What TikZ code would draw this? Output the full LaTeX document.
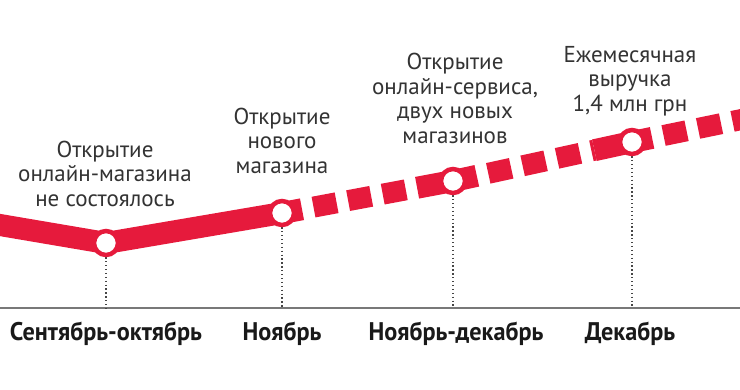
\documentclass[tikz,border=0pt]{standalone}
\usepackage{fontspec}
\setmainfont{PT Sans}
\newfontfamily\lblfont{PT Sans}
\newfontfamily\monthfont[FakeStretch=0.95]{PT Sans}
\usetikzlibrary{calc,backgrounds}
\definecolor{mred}{RGB}{230,26,60}
\definecolor{txtgray}{RGB}{51,51,51}
\definecolor{axgray}{RGB}{120,120,120}
\definecolor{dotgray}{RGB}{70,70,70}
\begin{document}
\begin{tikzpicture}[x=1pt,y=-1pt,
  redline/.style={line width=22pt, draw=mred, line cap=butt, line join=miter},
  dashline/.style={line width=21pt, draw=mred, line cap=butt, dash pattern=on 23.5pt off 11.7pt, dash phase=23.5pt},
  marker/.style={circle, fill=white, draw=mred, line width=4.5pt, minimum size=24pt, inner sep=0pt},
  dotline/.style={draw=dotgray, line width=1.3pt, dash pattern=on 1.3pt off 2.6pt},
  axisline/.style={draw=axgray, line width=2.4pt},
  toplabel/.style={align=center, text=txtgray, inner sep=0pt, anchor=base, font={\lblfont\fontsize{23}{24.5}\selectfont}},
  monthlabel/.style={text=black!90, inner sep=0pt, anchor=base, font={\monthfont\bfseries\fontsize{25.5}{30}\selectfont}}
]
\useasboundingbox (0,0) rectangle (740,389);

\coordinate (s) at (-10,223.3);
\coordinate (e) at (760,115.7);
\coordinate (axL) at (0,308);
\coordinate (axR) at (740,308);

\node[marker] (n1) at (106,243) {};
\node[marker] (n2) at (282,213) {};
\node[marker] (n3) at (453,181) {};
\node[marker] (n4) at (632,142) {};

\begin{scope}[on background layer]
\draw[axisline] (axL) -- (axR);
\draw[dotline] (n1.south) -- (n1.south |- axL);
\draw[dotline] (n2.south) -- (n2.south |- axL);
\draw[dotline] (n3.south) -- (n3.south |- axL);
\draw[dotline] (n4.south) -- (n4.south |- axL);
\draw[redline] (s) -- (n1.center) -- (n2.center) -- ($(n2.center)!0.117!(n3.center)$);
\draw[dashline] ($(n2.center)!0.117!(n3.center)$) -- ($(n2.center)!0.79!(n3.center)$);
\draw[redline] ($(n2.center)!0.79!(n3.center)$) -- (n3.center) -- ($(n3.center)!0.133!(n4.center)$);
\draw[dashline] ($(n3.center)!0.133!(n4.center)$) -- ($(n3.center)!0.79!(n4.center)$);
\draw[redline] ($(n3.center)!0.79!(n4.center)$) -- (n4.center) -- ($(n4.center)!0.157!(e)$);
\draw[dashline] ($(n4.center)!0.157!(e)$) -- (e);
\end{scope}

\node[toplabel] (t1) at (105,206) {Открытие\\онлайн-магазина\\не состоялось};
\node[toplabel] (t2) at (282,173) {Открытие\\нового\\магазина};
\node[toplabel] (t3) at (455,143) {Открытие\\онлайн-сервиса,\\двух новых\\магазинов};
\node[toplabel] (t4) at (630,111) {Ежемесячная\\выручка\\1,4 млн грн};

\node[monthlabel] (m1) at (106,340) {Сентябрь-октябрь};
\node[monthlabel] (m2) at (282,340) {Ноябрь};
\node[monthlabel] (m3) at (456,340) {Ноябрь-декабрь};
\node[monthlabel] (m4) at (630,340) {Декабрь};
\end{tikzpicture}
\end{document}
